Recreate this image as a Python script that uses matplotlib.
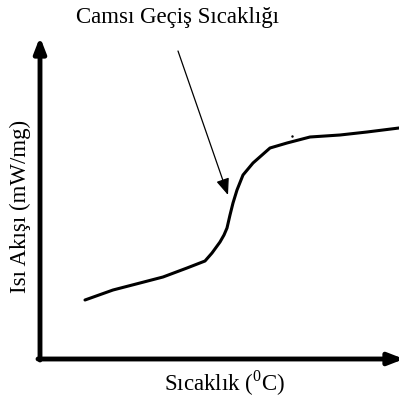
import matplotlib
matplotlib.use("Agg")
import matplotlib.pyplot as plt
import numpy as np

# DSC trace (arbitrary units: temperature along x, heat flow along y)
temperature = [85, 113, 140, 163, 187, 205, 212, 220, 224, 227, 230, 233, 237, 243,
               253, 270, 287, 310, 340, 367, 399]
heat_flow = [99, 109, 116, 122, 131, 138, 146, 157, 164, 171, 184, 196, 209, 224,
             236, 251, 256, 262, 264, 267, 271]

title_text = "Camsı Geçiş Sıcaklığı"
xlabel_text = "Sıcaklık ($^{0}$C)"
ylabel_text = "Isı Akışı (mW/mg)"
tg_label_pos = (178, 348)   # start of pointer line
tg_point = (228, 204)       # tip of pointer arrow

plt.rcParams["font.family"] = ["Liberation Serif", "DejaVu Serif"]
plt.rcParams["mathtext.fontset"] = "custom"
plt.rcParams["mathtext.rm"] = "Liberation Serif"

fig = plt.figure(figsize=(3.99, 3.99), dpi=100)
ax = fig.add_axes([0, 0, 1, 1])
ax.set_xlim(0, 399)
ax.set_ylim(0, 399)
ax.axis("off")

# axes drawn as thick arrows
axis_arrow = dict(arrowstyle="-|>,head_length=0.9,head_width=0.35",
                  lw=3.5, color="black", shrinkA=0, shrinkB=0)
ax.annotate("", xy=(40, 362), xytext=(40, 39), arrowprops=axis_arrow,
            annotation_clip=False)
ax.annotate("", xy=(404, 40), xytext=(38, 40), arrowprops=axis_arrow,
            annotation_clip=False)

ax.plot(temperature, heat_flow, color="black", lw=2.2,
        solid_capstyle="round", solid_joinstyle="round")
ax.plot([292], [263], marker=".", ms=1.5, color="black")

ax.annotate("", xy=tg_point, xytext=tg_label_pos,
            arrowprops=dict(arrowstyle="-|>,head_length=1.0,head_width=0.4",
                            lw=0.9, color="black", shrinkA=0, shrinkB=0))

ax.text(178, 381, title_text, ha="center", va="center", fontsize=16.5)
ax.text(225, 16, xlabel_text, ha="center", va="center", fontsize=16.5)
ax.text(20, 193, ylabel_text, ha="center", va="center", rotation=90, fontsize=16.5)

fig.savefig("out.png", dpi=100)
